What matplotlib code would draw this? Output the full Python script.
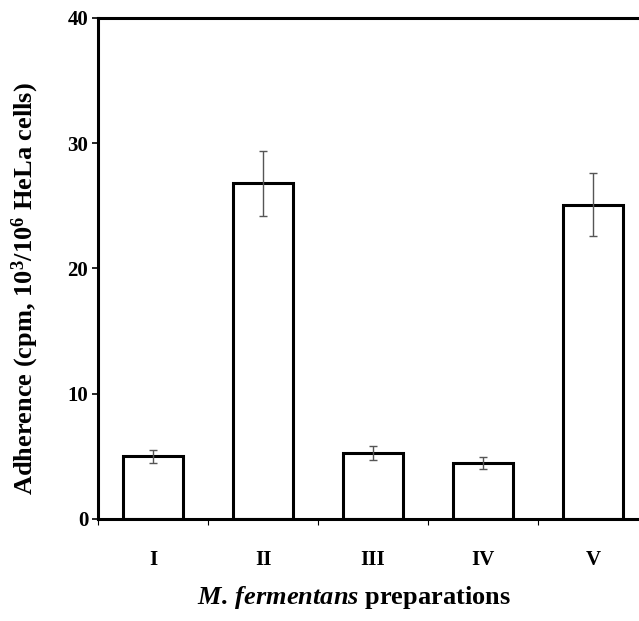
import matplotlib
matplotlib.use('Agg')
import matplotlib.pyplot as plt
import numpy as np

# data
preparations = ['I', 'II', 'III', 'IV', 'V']
adherence = [5.0, 26.8, 5.3, 4.5, 25.1]
adherence_err = [0.5, 2.6, 0.55, 0.48, 2.5]
y_ticks = [0, 10, 20, 30, 40]

plt.rcParams['font.family'] = ['Liberation Serif', 'DejaVu Serif']
plt.rcParams['font.weight'] = 'bold'
plt.rcParams['mathtext.fontset'] = 'custom'
plt.rcParams['mathtext.rm'] = 'Liberation Serif:bold'
plt.rcParams['mathtext.bf'] = 'Liberation Serif:bold'
plt.rcParams['mathtext.it'] = 'Liberation Serif:bold:italic'

fig = plt.figure(figsize=(6.39, 6.21), dpi=100)
ax = fig.add_axes([98 / 639, 102 / 621, 550 / 639, 501 / 621])

x = np.arange(len(preparations))
ax.bar(x, adherence, width=0.54, color='white', edgecolor='black', linewidth=2.2, zorder=2)
ax.errorbar(x, adherence, yerr=adherence_err, fmt='none', ecolor='#555555',
            elinewidth=1.0, capsize=3, capthick=1.0, zorder=3)

ax.set_xlim(-0.5, len(preparations) - 0.5)
ax.set_ylim(0, 40)
ax.set_yticks(y_ticks)
ax.set_yticklabels([str(t) for t in y_ticks], fontsize=15, fontweight='bold')

# boundary ticks as major, labels at the category centres
ax.set_xticks(np.arange(len(preparations) + 1) - 0.5)
ax.set_xticklabels([])
ax.set_xticks(x, minor=True)
ax.set_xticklabels(preparations, minor=True, fontsize=15, fontweight='bold')
ax.tick_params(axis='x', which='minor', length=0, pad=22)
ax.tick_params(axis='x', which='major', length=4, width=0.8, direction='out')
ax.tick_params(axis='y', length=4, width=1.2, direction='out', pad=3)

for side in ['left', 'bottom', 'top']:
    ax.spines[side].set_linewidth(2.2)
ax.spines['right'].set_visible(False)

ax.set_xlabel(r'$\mathit{M.}\!\ \mathit{fermentans}$ preparations', fontsize=19, fontweight='bold')
ax.xaxis.set_label_coords(0.465, -0.129)
ax.set_ylabel(r'Adherence (cpm, 10$^{3}$/10$^{6}$ HeLa cells)', fontsize=19, fontweight='bold')
ax.yaxis.set_label_coords(-0.103, 0.46)

fig.savefig('out.png', dpi=100)
plt.close(fig)
